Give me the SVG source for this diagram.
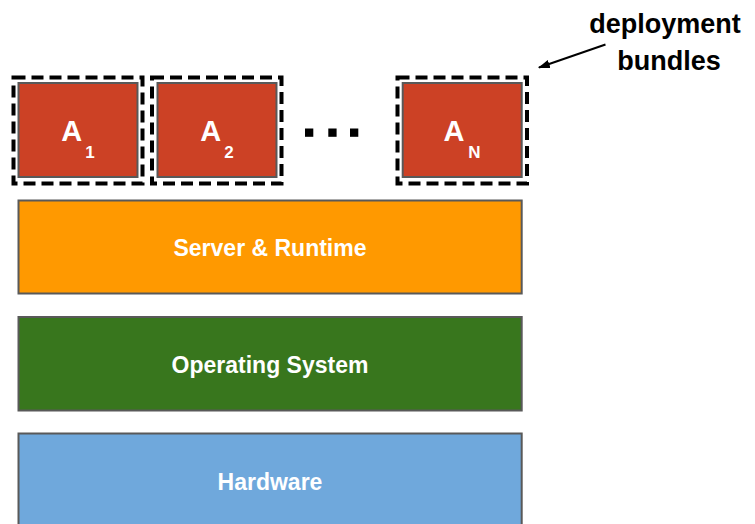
<svg xmlns="http://www.w3.org/2000/svg" width="755" height="524" viewBox="0 0 755 524">
  <style>
    .app { fill: #CC4125; stroke: #595959; stroke-width: 2; }
    .bundle { fill: none; stroke: #000000; stroke-width: 4; stroke-dasharray: 12 6; }
    .layer { stroke: #595959; stroke-width: 2; }
    .lbl { font-family: "Liberation Sans", Arial, sans-serif; font-weight: bold; fill: #FFFFFF; text-anchor: middle; }
    .app-lbl { font-size: 29px; }
    .sub { font-size: 17px; }
    .layer-lbl { font-size: 23px; }
    .note { font-family: "Liberation Sans", Arial, sans-serif; font-weight: bold; font-size: 27px; fill: #000000; text-anchor: middle; }
    .dot { fill: #000000; }
    .conn { stroke: #000000; stroke-width: 2; fill: none; }
  </style>
  <defs>
    <marker id="arrowhead" viewBox="0 0 10 10" refX="9" refY="5" markerWidth="6" markerHeight="6" orient="auto" markerUnits="strokeWidth">
      <path d="M0,1.5 L10,5 L0,8.5 Z" fill="#000000"/>
    </marker>
  </defs>

  <rect width="755" height="524" fill="#FFFFFF"/>

  <!-- application A1 with its deployment bundle -->
  <g id="app-a1">
    <rect class="bundle" x="13.5" y="77.5" width="129" height="106"/>
    <rect class="app" x="18.5" y="83" width="119" height="94"/>
    <text class="lbl app-lbl" x="78" y="141.2">A<tspan class="sub" dx="3" dy="16.3">1</tspan></text>
  </g>

  <!-- application A2 with its deployment bundle -->
  <g id="app-a2">
    <rect class="bundle" x="152" y="77.5" width="129.5" height="106"/>
    <rect class="app" x="157.5" y="83" width="119" height="94"/>
    <text class="lbl app-lbl" x="217" y="141.2">A<tspan class="sub" dx="3" dy="16.3">2</tspan></text>
  </g>

  <!-- ellipsis between A2 and AN -->
  <g id="ellipsis">
    <rect class="dot" x="305" y="128.5" width="8.3" height="8.3"/>
    <rect class="dot" x="328.3" y="128.5" width="8.3" height="8.3"/>
    <rect class="dot" x="350" y="128.5" width="8.3" height="8.3"/>
  </g>

  <!-- application AN with its deployment bundle -->
  <g id="app-an">
    <rect class="bundle" x="397.5" y="77.5" width="129.5" height="106"/>
    <rect class="app" x="402.7" y="83" width="119" height="94"/>
    <text class="lbl app-lbl" x="462" y="141.2">A<tspan class="sub" dx="4" dy="16.3">N</tspan></text>
  </g>

  <!-- platform layers -->
  <g id="layer-server">
    <rect class="layer" x="18.5" y="200.5" width="503.2" height="93" fill="#FF9900"/>
    <text class="lbl layer-lbl" x="270" y="256">Server &amp; Runtime</text>
  </g>
  <g id="layer-os">
    <rect class="layer" x="18.5" y="317" width="503.2" height="93.5" fill="#38761D"/>
    <text class="lbl layer-lbl" x="270" y="372.5">Operating System</text>
  </g>
  <g id="layer-hardware">
    <rect class="layer" x="18.5" y="433.5" width="503.2" height="96" fill="#6FA8DC"/>
    <text class="lbl layer-lbl" x="270" y="490">Hardware</text>
  </g>

  <!-- callout label -->
  <g id="label-bundles">
    <text class="note" x="665" y="33.3">deployment</text>
    <text class="note" x="669" y="70">bundles</text>
  </g>

  <!-- connectors -->
  <g id="connectors">
    <line class="conn" x1="605.5" y1="44.5" x2="539" y2="67.5" marker-end="url(#arrowhead)"/>
  </g>
</svg>
